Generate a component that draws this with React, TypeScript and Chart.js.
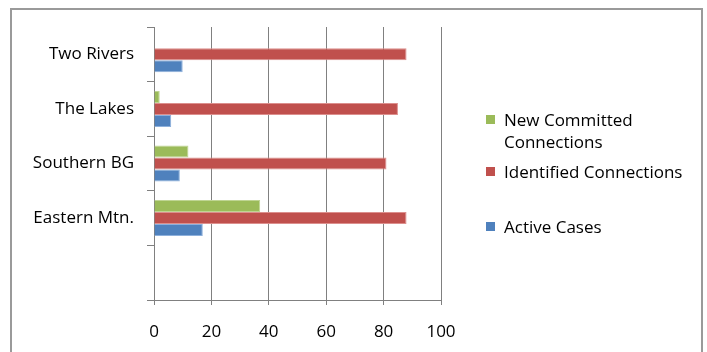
import React, { useEffect, useRef } from "react";
import { Chart, registerables } from "chart.js";

Chart.register(...registerables);

const categories = ["Two Rivers", "The Lakes", "Southern BG", "Eastern Mtn.", ""];
const newCommitted = [0, 2, 12, 37, null];
const identified = [88, 85, 81, 88, null];
const activeCases = [10, 6, 9, 17, null];
const xTicks = [0, 20, 40, 60, 80, 100];

const seriesNames = ["New Committed Connections", "Identified Connections", "Active Cases"];
const colors = ["#9BBB59", "#C0504D", "#4F81BD"];
const borders = ["#bfd593", "#dc8f8d", "#8db0dc"];

const FONT = "'Open Sans', sans-serif";

export default function App() {
  const ref = useRef<HTMLCanvasElement | null>(null);

  useEffect(() => {
    if (!ref.current) return;
    const chart = new Chart(ref.current, {
      type: "bar",
      data: {
        labels: categories,
        datasets: [
          { label: seriesNames[0], data: newCommitted, backgroundColor: colors[0], borderColor: borders[0], borderWidth: 1 },
          { label: seriesNames[1], data: identified, backgroundColor: colors[1], borderColor: borders[1], borderWidth: 1 },
          { label: seriesNames[2], data: activeCases, backgroundColor: colors[2], borderColor: borders[2], borderWidth: 1 },
        ],
      },
      options: {
        indexAxis: "y",
        responsive: false,
        animation: false,
        devicePixelRatio: 1,
        layout: { padding: { left: 0, top: 27, right: 266, bottom: 0 } },
        datasets: { bar: { categoryPercentage: 0.66, barPercentage: 1.0 } },
        plugins: { legend: { display: false }, tooltip: { enabled: false }, title: { display: false } },
        scales: {
          x: {
            type: "linear",
            min: xTicks[0],
            max: xTicks[xTicks.length - 1],
            afterBuildTicks: (s: any) => {
              s.ticks = xTicks.map((v) => ({ value: v }));
            },
            afterFit: (s: any) => {
              s.height = 52;
            },
            ticks: { color: "#000", font: { family: FONT, size: 17 }, padding: 17 },
            grid: { color: "#808080", lineWidth: 1, tickLength: 5, drawOnChartArea: true, drawTicks: true },
            border: { display: true, color: "#808080", width: 1 },
          },
          y: {
            type: "category",
            afterFit: (s: any) => {
              s.width = 154;
            },
            ticks: { color: "#000", font: { family: FONT, size: 17 }, padding: 13 },
            grid: { color: "#808080", lineWidth: 1, tickLength: 7, drawOnChartArea: false, drawTicks: true, offset: true },
            border: { display: true, color: "#808080", width: 1 },
          },
        },
      },
    });
    return () => chart.destroy();
  }, []);

  const legendItems = [
    { name: seriesNames[0], lines: ["New Committed", "Connections"], color: colors[0], top: 109 },
    { name: seriesNames[1], lines: ["Identified Connections"], color: colors[1], top: 161 },
    { name: seriesNames[2], lines: ["Active Cases"], color: colors[2], top: 216 },
  ];

  return (
    <div style={{ position: "fixed", left: 0, top: 0, width: 707, height: 352, overflow: "hidden", background: "#fff" }}>
      <div
        style={{
          position: "absolute",
          left: 10,
          top: 8,
          width: 693,
          height: 420,
          boxSizing: "border-box",
          border: "2px solid #9a9a9a",
        }}
      />
      <canvas ref={ref} width={707} height={352} style={{ position: "absolute", left: 0, top: 0, width: 707, height: 352 }} />
      {legendItems.map((it) => (
        <div key={it.name} style={{ position: "absolute", left: 486, top: it.top, fontFamily: FONT, fontSize: 17, lineHeight: "22px", color: "#000" }}>
          <div style={{ position: "absolute", left: 0, top: 6, width: 9, height: 9, background: it.color }} />
          <div style={{ position: "absolute", left: 18, top: 0, whiteSpace: "nowrap" }}>
            {it.lines.map((l, i) => (
              <div key={i}>{l}</div>
            ))}
          </div>
        </div>
      ))}
    </div>
  );
}
